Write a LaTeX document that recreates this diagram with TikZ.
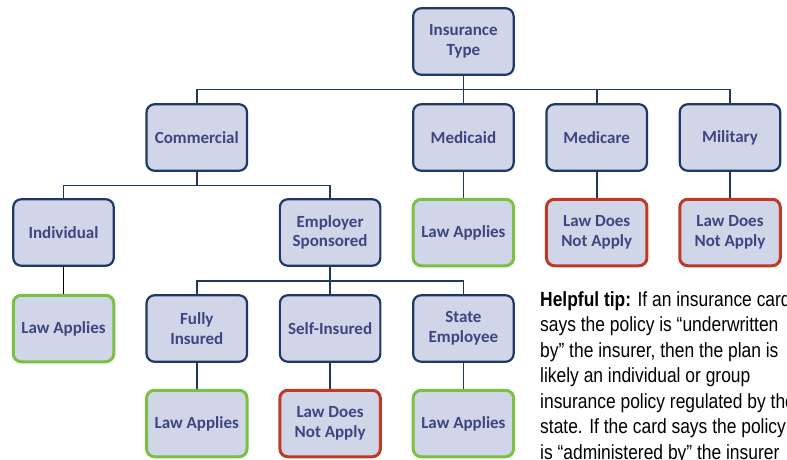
\documentclass[tikz,border=0pt]{standalone}
\usepackage{fontspec}
\setmainfont{Carlito}
\newfontfamily\tipfont[FakeStretch=0.85]{Liberation Sans}
\definecolor{navy}{RGB}{31,56,100}
\definecolor{boxfill}{RGB}{208,213,232}
\definecolor{txt}{RGB}{60,70,128}
\definecolor{lawgreen}{RGB}{122,193,67}
\definecolor{lawred}{RGB}{190,58,38}
\begin{document}
\begin{tikzpicture}[x=1pt,y=-1pt,
  box/.style={draw=navy, line width=2.2pt, fill=boxfill, rounded corners=8pt,
    minimum width=100.5pt, minimum height=66.5pt, align=center, text=txt,
    font=\bfseries\fontsize{17}{19.5}\selectfont, inner sep=2pt},
  yesbox/.style={box, draw=lawgreen, line width=3pt},
  nobox/.style={box, draw=lawred, line width=3pt},
  conn/.style={draw=navy, line width=1.8pt},
  tip/.style={anchor=base west, align=left, inner sep=0pt,
    font=\tipfont\fontsize{20.5}{25.5}\selectfont}]
\useasboundingbox (0,0) rectangle (787,460);
\clip (0,0) rectangle (787,460);
% row 1
\node[box] (it) at (463.4,41.5) {Insurance\\Type};
% row 2
\node[box] (com) at (196.8,137.5) {Commercial};
\node[box] (mcd) at (463.4,137.5) {Medicaid};
\node[box] (mcr) at (596.7,137.5) {Medicare};
\node[box] (mil) at (730,137.5) {Military};
% row 3
\node[box] (ind) at (63.5,232.5) {Individual};
\node[box] (emp) at (330.1,232.5) {Employer\\Sponsored};
\node[yesbox] (mcdl) at (463.4,232.5) {Law Applies};
\node[nobox] (mcrl) at (596.7,232.5) {Law Does\\Not Apply};
\node[nobox] (mill) at (730,232.5) {Law Does\\Not Apply};
% row 4
\node[yesbox] (indl) at (63.5,328.5) {Law Applies};
\node[box] (fi) at (196.8,328.5) {Fully\\Insured};
\node[box] (se) at (330.1,328.5) {Self-Insured};
\node[box] (st) at (463.4,328.5) {State\\Employee};
% row 5
\node[yesbox] (fil) at (196.8,423.5) {Law Applies};
\node[nobox] (sel) at (330.1,423.5) {Law Does\\Not Apply};
\node[yesbox] (stl) at (463.4,423.5) {Law Applies};
% buses
\coordinate (b1) at (463.4,89.5);
\coordinate (b2) at (196.8,185.5);
\coordinate (b3) at (330.1,281);
% connectors
\draw[conn] (it.south) -- (mcd.north);
\draw[conn] (com.north) -- (com.north |- b1) -- (mil.north |- b1) -- (mil.north);
\draw[conn] (mcr.north |- b1) -- (mcr.north);
\draw[conn] (com.south) -- (b2);
\draw[conn] (ind.north) -- (ind.north |- b2) -- (emp.north |- b2) -- (emp.north);
\draw[conn] (emp.south) -- (se.north);
\draw[conn] (fi.north) -- (fi.north |- b3) -- (st.north |- b3) -- (st.north);
\draw[conn] (mcd.south) -- (mcdl.north);
\draw[conn] (mcr.south) -- (mcrl.north);
\draw[conn] (mil.south) -- (mill.north);
\draw[line width=1.8pt, draw=black] (ind.south) -- (indl.north);
\draw[conn] (fi.south) -- (fil.north);
\draw[conn] (se.south) -- (sel.north);
\draw[conn] (st.south) -- (stl.north);
% tip text (anchor at baseline of last line)
\node[tip] (tiptext) at (540,459) {\textbf{Helpful tip:} If an insurance card\\
says the policy is “underwritten\\
by” the insurer, then the plan is\\
likely an individual or group\\
insurance policy regulated by the\\
state. If the card says the policy\\
is “administered by” the insurer};
\end{tikzpicture}
\end{document}
